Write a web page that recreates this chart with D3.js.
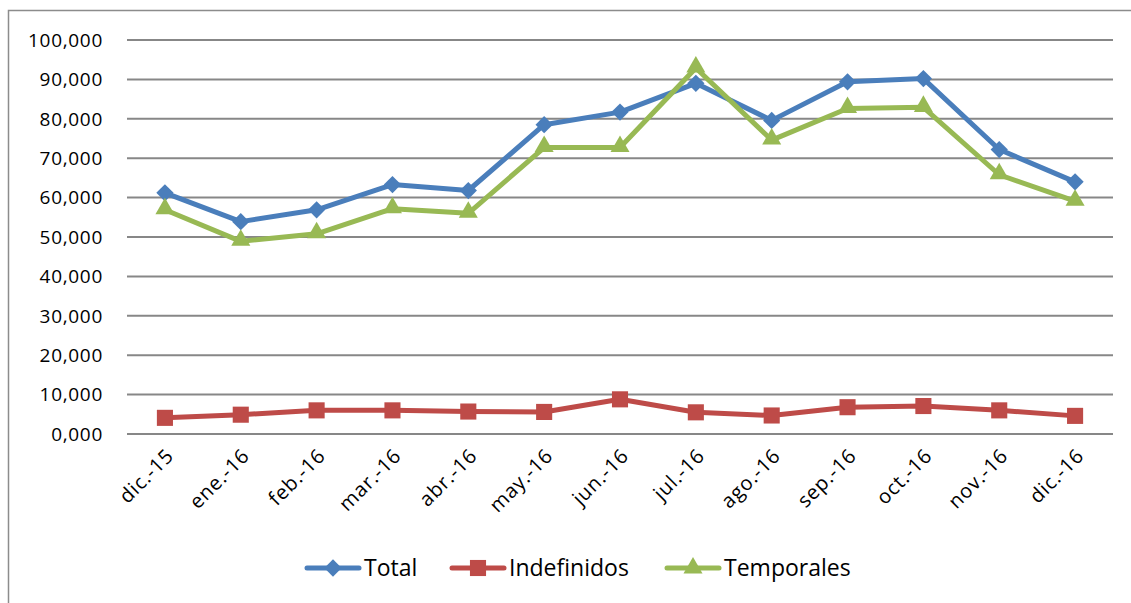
<!DOCTYPE html>
<html>
<head>
<meta charset="utf-8">
<script src="https://cdn.jsdelivr.net/npm/d3@7"></script>
<style>
  body { margin: 0; background: #fff; }
  svg { font-family: "Open Sans", sans-serif; }
</style>
</head>
<body>
<div id="chart"></div>
<script>
// chart data
var months = ["dic.-15", "ene.-16", "feb.-16", "mar.-16", "abr.-16", "may.-16", "jun.-16",
              "jul.-16", "ago.-16", "sep.-16", "oct.-16", "nov.-16", "dic.-16"];
var total = [61200, 53900, 56900, 63300, 61800, 78500, 81700, 89000, 79600, 89400, 90200, 72200, 64000];
var indefinidos = [4100, 4900, 6000, 6000, 5700, 5600, 8800, 5500, 4700, 6800, 7100, 6000, 4600];
var temporales = [56900, 48900, 50800, 57200, 56000, 72700, 72700, 92900, 74600, 82600, 82900, 65800, 59100];
var yTicks = [0, 10000, 20000, 30000, 40000, 50000, 60000, 70000, 80000, 90000, 100000];
var seriesNames = ["Total", "Indefinidos", "Temporales"];

var W = 1131, H = 603;
var margin = {left: 127, right: 18, top: 40, bottom: 169};

var svg = d3.select("#chart").append("svg")
    .attr("width", W).attr("height", H);

// outer frame (only left and top visible)
svg.append("path")
    .attr("d", "M8.5," + H + "V10.5H" + W)
    .attr("fill", "none").attr("stroke", "#8c8c8c").attr("stroke-width", 1.5);

var x = d3.scaleBand().domain(months).range([margin.left, W - margin.right]);
var y = d3.scaleLinear().domain([0, 100000]).range([H - margin.bottom, margin.top]);

var fmt = function(v) { return v === 0 ? "0,000" : d3.format(",")(v); };

// gridlines
svg.append("g").selectAll("line").data(yTicks).enter().append("line")
    .attr("x1", x.range()[0]).attr("x2", x.range()[1])
    .attr("y1", d => y(d)).attr("y2", d => y(d))
    .attr("stroke", "#878787").attr("stroke-width", 2);

// y labels
svg.append("g").selectAll("text").data(yTicks).enter().append("text")
    .attr("x", 103).attr("y", d => y(d)).attr("dy", "0.36em")
    .attr("text-anchor", "end").attr("font-size", "19px").attr("fill", "#000")
    .attr("letter-spacing", "0.7px")
    .text(fmt);

// x labels
svg.append("g").selectAll("text").data(months).enter().append("text")
    .attr("text-anchor", "end").attr("font-size", "20px").attr("fill", "#000")
    .attr("letter-spacing", "0.8px")
    .attr("transform", d => "translate(" + (x(d) + x.bandwidth() / 2 + 10) + "," + 457 + ") rotate(-45)")
    .text(d => d);

var colors = ["#4a7ebb", "#be4b48", "#98b954"];
var allSeries = [total, indefinidos, temporales];

var cx = function(d, i) { return x(months[i]) + x.bandwidth() / 2; };
var line = d3.line().x(cx).y(d => y(d));

var symbols = [
  d3.symbol().type(d3.symbolDiamond2).size(190),
  d3.symbol().type(d3.symbolSquare2).size(330),
  d3.symbol().type(d3.symbolTriangle2).size(260)
];

allSeries.forEach(function(vals, s) {
  svg.append("path").datum(vals)
      .attr("d", line)
      .attr("fill", "none").attr("stroke", colors[s])
      .attr("stroke-width", 5).attr("stroke-linejoin", "round");
});
allSeries.forEach(function(vals, s) {
  svg.append("g").selectAll("path").data(vals).enter().append("path")
      .attr("d", symbols[s])
      .attr("transform", (d, i) => "translate(" + cx(d, i) + "," + (y(d) + (s === 2 ? -1 : 0)) + ")")
      .attr("fill", colors[s]);
});

// legend
var legendX = [305, 450, 665];
var legendY = 568;
var leg = svg.append("g").selectAll("g").data(seriesNames).enter().append("g")
    .attr("transform", (d, i) => "translate(" + legendX[i] + "," + legendY + ")");
leg.append("line").attr("x1", 2).attr("x2", 54)
    .attr("stroke", (d, i) => colors[i]).attr("stroke-width", 5).attr("stroke-linecap", "round");
leg.append("path").attr("d", (d, i) => symbols[i]())
    .attr("transform", "translate(28,0)")
    .attr("fill", (d, i) => colors[i]);
leg.append("text").attr("x", 59).attr("dy", "0.36em")
    .attr("font-size", "23px").attr("fill", "#000")
    .text(d => d);
</script>
</body>
</html>
